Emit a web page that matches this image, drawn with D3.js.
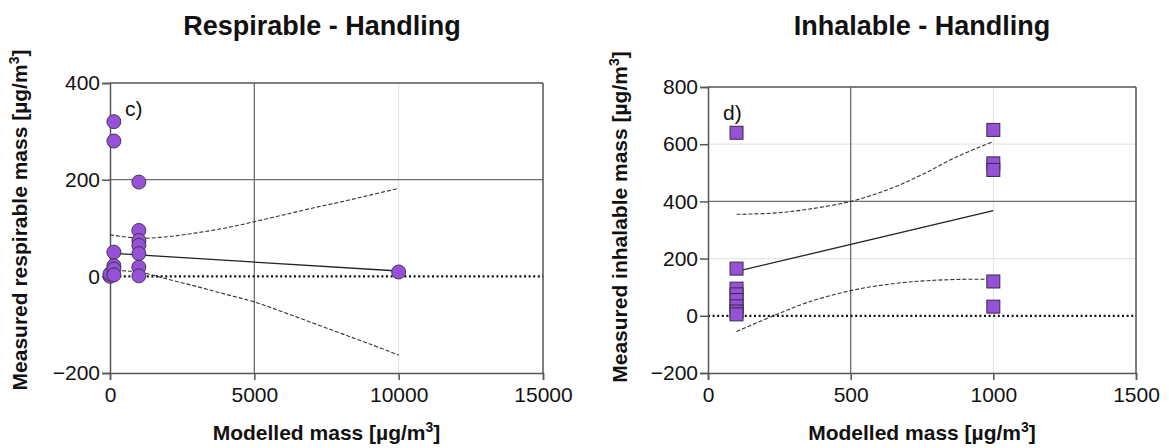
<!DOCTYPE html>
<html>
<head>
<meta charset="utf-8">
<script src="https://cdn.jsdelivr.net/npm/d3@7"></script>
<style>
  html, body { margin: 0; padding: 0; background: #fff; }
  svg text { font-family: "Liberation Sans", Arial, sans-serif; fill: #111; }
</style>
</head>
<body>
<svg id="chart" width="1169" height="448"></svg>
<script>
// ---------- Data: panel c) Respirable - Handling ----------
const respX = [0, 0, 100, 100, 100, 100, 100, 100, 1000, 1000, 1000, 1000, 1000, 1000, 1000, 10000];
const respY = [0, 5, 320, 280, 50, 22, 15, 3, 195, 95, 74, 64, 47, 19, 1, 9];
const respFitX = [0, 10000];
const respFitY = [48, 11];
const respCiX = [0, 1000, 2000, 3000, 4000, 5000, 6000, 7000, 8000, 9000, 10000];
const respCiUpper = [86, 79, 82, 90, 100, 113, 127, 141, 154, 168, 182];
const respCiLower = [12, 9, -6, -21, -37, -53, -74, -96, -118, -140, -163];
const respXTicks = [0, 5000, 10000, 15000];
const respYTicks = [-200, 0, 200, 400];

// ---------- Data: panel d) Inhalable - Handling ----------
const inhX = [100, 100, 100, 100, 100, 100, 100, 100, 1000, 1000, 1000, 1000, 1000];
const inhY = [640, 165, 95, 75, 55, 33, 15, 5, 650, 533, 510, 120, 32];
const inhFitX = [100, 1000];
const inhFitY = [155, 368];
const inhCiX = [100, 229, 346, 500, 638, 755, 872, 1000];
const inhCiUpper = [355, 359, 372, 400, 444, 496, 556, 609];
const inhCiLower = [-55, 0, 46, 88, 111, 122, 127, 128];
const inhXTicks = [0, 500, 1000, 1500];
const inhYTicks = [-200, 0, 200, 400, 600, 800];

const svg = d3.select("#chart");
const purple = "#9652d6";

function panel(o) {
  const g = svg.append("g");
  const x = d3.scaleLinear().domain(o.xDomain).range([o.left, o.right]);
  const y = d3.scaleLinear().domain(o.yDomain).range([o.bottom, o.top]);

  // faint grid
  o.faintX.forEach(v => g.append("line").attr("x1", x(v)).attr("x2", x(v)).attr("y1", o.top).attr("y2", o.bottom).attr("stroke", "#e6e6e6").attr("stroke-width", 1.2));
  o.faintY.forEach(v => g.append("line").attr("x1", o.left).attr("x2", o.right).attr("y1", y(v)).attr("y2", y(v)).attr("stroke", "#e6e6e6").attr("stroke-width", 1.2));
  // dark grid
  o.darkX.forEach(v => g.append("line").attr("x1", x(v)).attr("x2", x(v)).attr("y1", o.top).attr("y2", o.bottom).attr("stroke", "#6e6e6e").attr("stroke-width", 1.3));
  o.darkY.forEach(v => g.append("line").attr("x1", o.left).attr("x2", o.right).attr("y1", y(v)).attr("y2", y(v)).attr("stroke", "#6e6e6e").attr("stroke-width", 1.3));

  // frame top/right
  g.append("line").attr("x1", o.left).attr("x2", o.right).attr("y1", o.top).attr("y2", o.top).attr("stroke", "#555").attr("stroke-width", 1.5);
  g.append("line").attr("x1", o.right).attr("x2", o.right).attr("y1", o.top).attr("y2", o.bottom).attr("stroke", "#555").attr("stroke-width", 1.5);

  // zero dotted line
  g.append("line").attr("x1", o.left).attr("x2", o.right).attr("y1", y(0)).attr("y2", y(0))
    .attr("stroke", "#111").attr("stroke-width", 2.2).attr("stroke-dasharray", "2,2.6");

  // axes
  const xa = g.append("g").attr("transform", `translate(0,${o.bottom})`)
    .call(d3.axisBottom(x).tickValues(o.xTicks).tickSize(7).tickPadding(7).tickFormat(d3.format("d")));
  const ya = g.append("g").attr("transform", `translate(${o.left},0)`)
    .call(d3.axisLeft(y).tickValues(o.yTicks).tickSize(8).tickPadding(2).tickFormat(d3.format("d")));
  [xa, ya].forEach(a => {
    a.select(".domain").attr("stroke", "#555").attr("stroke-width", 1.5);
    a.selectAll(".tick line").attr("stroke", "#555").attr("stroke-width", 1.5);
    a.selectAll(".tick text").attr("font-size", 21).attr("fill", "#111")
      .style("font-family", '"Liberation Sans", Arial, sans-serif');
  });

  // CI curves
  const ciLine = (ys) => d3.line().x((d, i) => x(o.ciX[i])).y(d => y(d)).curve(d3.curveCatmullRom.alpha(0.5))(ys);
  [o.ciU, o.ciL].forEach(arr => g.append("path").attr("d", ciLine(arr)).attr("fill", "none")
    .attr("stroke", "#333").attr("stroke-width", 1.1).attr("stroke-dasharray", "4,2"));
  // Fit line
  g.append("path").attr("d", d3.line().x((d, i) => x(o.fitX[i])).y(d => y(d))(o.fitY))
    .attr("fill", "none").attr("stroke", "#222").attr("stroke-width", 1.3);

  // points
  const pts = o.px.map((v, i) => [v, o.py[i]]);
  if (o.shape === "circle") {
    g.selectAll("circle.pt").data(pts).enter().append("circle").attr("class", "pt")
      .attr("cx", d => x(d[0]) + (d[0] === 100 ? 1 : 0)).attr("cy", d => y(d[1])).attr("r", 7)
      .attr("fill", purple).attr("stroke", "#3a2a48").attr("stroke-width", 0.9);
  } else {
    const s = 13;
    g.selectAll("rect.pt").data(pts).enter().append("rect").attr("class", "pt")
      .attr("x", d => x(d[0]) - s / 2).attr("y", d => y(d[1]) - s / 2).attr("width", s).attr("height", s)
      .attr("fill", purple).attr("stroke", "#3a2a48").attr("stroke-width", 1);
  }

  // panel letter
  g.append("text").attr("x", o.left + 15).attr("y", o.top + 33).attr("font-size", 21).text(o.letter);

  // title
  svg.append("text").attr("x", o.titleX).attr("y", 35).attr("text-anchor", "middle")
    .attr("font-size", 27).attr("font-weight", "bold").text(o.title);

  // x label
  const xl = svg.append("text").attr("x", (o.left + o.right) / 2).attr("y", 440).attr("text-anchor", "middle")
    .attr("font-size", 21).attr("font-weight", "bold");
  xl.append("tspan").text("Modelled mass [µg/m");
  xl.append("tspan").attr("font-size", 14).attr("dy", -8).text("3");
  xl.append("tspan").attr("dy", 8).text("]");

  // y label
  const yl = svg.append("text").attr("transform", `translate(${o.ylabX},${o.ylabY}) rotate(-90)`)
    .attr("text-anchor", "middle").attr("font-size", 21).attr("font-weight", "bold");
  yl.append("tspan").text(o.ylab);
  yl.append("tspan").attr("font-size", 14).attr("dy", -8).text("3");
  yl.append("tspan").attr("dy", 8).text("]");
}

panel({
  left: 110, right: 543, top: 83, bottom: 373,
  xDomain: [0, 15000], yDomain: [-200, 400],
  xTicks: respXTicks, yTicks: respYTicks,
  darkX: [5000], faintX: [10000], darkY: [200], faintY: [],
  px: respX, py: respY, shape: "circle",
  fitX: respFitX, fitY: respFitY, ciX: respCiX, ciU: respCiUpper, ciL: respCiLower,
  letter: "c)", title: "Respirable - Handling", titleX: 322,
  ylab: "Measured respirable mass [µg/m", ylabX: 27, ylabY: 220
});

panel({
  left: 708, right: 1136, top: 87, bottom: 373,
  xDomain: [0, 1500], yDomain: [-200, 800],
  xTicks: inhXTicks, yTicks: inhYTicks,
  darkX: [500], faintX: [1000], darkY: [400], faintY: [200, 600],
  px: inhX, py: inhY, shape: "square",
  fitX: inhFitX, fitY: inhFitY, ciX: inhCiX, ciU: inhCiUpper, ciL: inhCiLower,
  letter: "d)", title: "Inhalable - Handling", titleX: 922,
  ylab: "Measured inhalable mass [µg/m", ylabX: 627, ylabY: 217
});
</script>
</body>
</html>
